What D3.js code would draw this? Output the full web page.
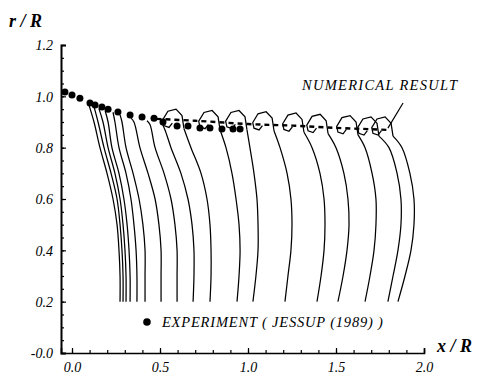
<!DOCTYPE html>
<html>
<head>
<meta charset="utf-8">
<script src="https://cdn.jsdelivr.net/npm/d3@7"></script>
<style>
  body { margin: 0; background: #fff; }
  svg { display: block; }
  .tick text { font-family: "Liberation Serif", "DejaVu Serif", serif; font-style: italic; font-size: 14px; fill: #000; }
  .tick line { stroke: #000; stroke-width: 1.2; }
  .lbl { font-family: "Liberation Serif", serif; font-style: italic; fill: #000; }
  .title { font-family: "Liberation Serif", serif; font-style: italic; font-weight: bold; font-size: 18px; fill: #000; }
</style>
</head>
<body>
<div id="chart"></div>
<script>
// radial stations shared by the lower part of every wake line
const rLevels = [0.2, 0.3, 0.4, 0.5, 0.6, 0.7, 0.8];

// x/R of each wake line at the radial stations above
const stems = [
  [0.273, 0.273, 0.267, 0.256, 0.233, 0.199, 0.159],
  [0.290, 0.290, 0.284, 0.273, 0.256, 0.222, 0.182],
  [0.307, 0.307, 0.301, 0.290, 0.273, 0.244, 0.205],
  [0.330, 0.330, 0.324, 0.313, 0.295, 0.267, 0.227],
  [0.369, 0.369, 0.364, 0.352, 0.335, 0.307, 0.267],
  [0.415, 0.415, 0.415, 0.403, 0.381, 0.347, 0.307],
  [0.506, 0.506, 0.506, 0.494, 0.472, 0.432, 0.386],
  [0.597, 0.597, 0.597, 0.585, 0.5625, 0.523, 0.472],
  [0.688, 0.693, 0.693, 0.682, 0.659, 0.619, 0.5625],
  [0.784, 0.790, 0.790, 0.784, 0.767, 0.733, 0.676],
  [0.9375, 0.949, 0.955, 0.949, 0.932, 0.909, 0.875],
  [1.028, 1.045, 1.057, 1.057, 1.051, 1.034, 1.011],
  [1.210, 1.227, 1.244, 1.250, 1.244, 1.222, 1.182],
  [1.392, 1.415, 1.432, 1.4375, 1.432, 1.409, 1.364],
  [1.511, 1.540, 1.5625, 1.574, 1.568, 1.545, 1.500],
  [1.665, 1.693, 1.716, 1.727, 1.727, 1.705, 1.665],
  [1.795, 1.824, 1.852, 1.869, 1.869, 1.847, 1.801],
  [1.852, 1.892, 1.926, 1.943, 1.943, 1.920, 1.875]
];

// upper end of each wake line, [x/R, r/R]
const tips = [
  [[0.125, 0.900], [0.097, 0.965]],
  [[0.148, 0.900], [0.125, 0.960]],
  [[0.176, 0.900], [0.153, 0.952]],
  [[0.205, 0.900], [0.188, 0.945]],
  [[0.244, 0.900], [0.233, 0.938]],
  [[0.284, 0.900], [0.273, 0.928]],
  [[0.352, 0.900], [0.335, 0.915]],
  [[0.443, 0.890], [0.426, 0.905]],
  [[0.528, 0.870], [0.511, 0.895]],
  [[0.636, 0.875]],
  [[0.841, 0.870]],
  [[0.994, 0.870]],
  [[1.148, 0.865]],
  [[1.318, 0.860]],
  [[1.455, 0.855]],
  [[1.625, 0.850]],
  [[1.744, 0.845]],
  [[1.824, 0.845]]
];

// rolled-up tip of the outer wake lines (polygonal), [x/R, r/R]
const hooks = [
  null, null, null, null, null, null, null, null, null,
  [[0.625, 0.925], [0.591, 0.950], [0.545, 0.942], [0.515, 0.908], [0.522, 0.886], [0.551, 0.879], [0.570, 0.896]],
  [[0.830, 0.920], [0.796, 0.945], [0.750, 0.937], [0.720, 0.903], [0.727, 0.881], [0.756, 0.874], [0.775, 0.891]],
  [[0.983, 0.920], [0.949, 0.945], [0.903, 0.937], [0.873, 0.903], [0.880, 0.881], [0.909, 0.874], [0.928, 0.891]],
  [[1.137, 0.915], [1.103, 0.940], [1.057, 0.932], [1.027, 0.898], [1.034, 0.876], [1.063, 0.869], [1.082, 0.886]],
  [[1.307, 0.910], [1.273, 0.935], [1.227, 0.927], [1.197, 0.893], [1.204, 0.871], [1.233, 0.864], [1.252, 0.881]],
  [[1.444, 0.905], [1.410, 0.930], [1.364, 0.922], [1.334, 0.888], [1.341, 0.866], [1.370, 0.859], [1.389, 0.876]],
  [[1.614, 0.900], [1.580, 0.925], [1.534, 0.917], [1.504, 0.883], [1.511, 0.861], [1.540, 0.854], [1.559, 0.871]],
  [[1.733, 0.895], [1.699, 0.920], [1.653, 0.912], [1.623, 0.878], [1.630, 0.856], [1.659, 0.849], [1.678, 0.866]],
  [[1.813, 0.895], [1.779, 0.920], [1.733, 0.912], [1.703, 0.878], [1.710, 0.856], [1.739, 0.849], [1.758, 0.866]]
];

// tip vortex trajectory, numerical
const numX = [0.48, 0.70, 1.00, 1.25, 1.50, 1.70, 1.80];
const numR = [0.912, 0.905, 0.892, 0.886, 0.877, 0.872, 0.869];

// tip vortex trajectory, experiment (Jessup 1989)
const expX = [-0.040, 0.000, 0.045, 0.102, 0.131, 0.170, 0.205, 0.261, 0.330, 0.398,
              0.466, 0.517, 0.597, 0.659, 0.727, 0.784, 0.852, 0.915, 0.955];
const expR = [1.017, 1.005, 0.993, 0.974, 0.966, 0.958, 0.950, 0.939, 0.927, 0.919,
              0.915, 0.900, 0.884, 0.884, 0.877, 0.877, 0.873, 0.873, 0.873];

const xTicks = [0, 0.5, 1.0, 1.5, 2.0];
const yTicks = [0, 0.2, 0.4, 0.6, 0.8, 1.0, 1.2];

const width = 483, height = 377;
const svg = d3.select('#chart').append('svg')
  .attr('width', width)
  .attr('height', height);

const x = d3.scaleLinear().domain([-0.0625, 2.0]).range([61, 424]);
const y = d3.scaleLinear().domain([0, 1.2]).range([353, 45]);

// axes, ticks inward
const yAxis = d3.axisLeft(y).tickValues(yTicks).tickSize(-5).tickPadding(8)
  .tickFormat(d => d === 0 ? '-0.0' : d3.format('.1f')(d));
const gy = svg.append('g').attr('transform', `translate(${x.range()[0]},0)`).call(yAxis);
gy.select('.domain').attr('stroke', '#000').attr('stroke-width', 2);
gy.selectAll('.tick text').attr('dy', '0.35em');

const gyMinor = svg.append('g').attr('transform', `translate(${x.range()[0]},0)`)
  .call(d3.axisLeft(y).ticks(30).tickSize(-3).tickFormat(''));
gyMinor.select('.domain').remove();

const xAxis = d3.axisBottom(x).tickValues(xTicks).tickSize(-5).tickPadding(9)
  .tickFormat(d3.format('.1f'));
const gx = svg.append('g').attr('transform', `translate(0,${y(0)})`).call(xAxis);
gx.select('.domain').attr('stroke', '#000').attr('stroke-width', 1.6);
gx.selectAll('.tick text').attr('dy', '0.71em');

const gxMinor = svg.append('g').attr('transform', `translate(0,${y(0)})`)
  .call(d3.axisBottom(x).tickValues(d3.range(0, 2.01, 0.1)).tickSize(-3).tickFormat(''));
gxMinor.select('.domain').remove();

// wake lines
const smooth = d3.line().x(d => x(d[0])).y(d => y(d[1])).curve(d3.curveCatmullRom);
const poly = d3.line().x(d => x(d[0])).y(d => y(d[1]));

stems.forEach((s, i) => {
  const pts = s.map((v, k) => [v, rLevels[k]]).concat(tips[i]);
  svg.append('path')
    .attr('d', smooth(pts))
    .attr('fill', 'none')
    .attr('stroke', '#000')
    .attr('stroke-width', 1.25);
  if (hooks[i]) {
    svg.append('path')
      .attr('d', poly([tips[i][tips[i].length - 1]].concat(hooks[i])))
      .attr('fill', 'none')
      .attr('stroke', '#000')
      .attr('stroke-width', 1.25);
  }
});

// numerical tip vortex
svg.append('path')
  .attr('d', smooth(numX.map((v, k) => [v, numR[k]])))
  .attr('fill', 'none')
  .attr('stroke', '#000')
  .attr('stroke-width', 2.4)
  .attr('stroke-dasharray', '5,4');

// experiment
svg.selectAll('.exp')
  .data(expX.map((v, k) => [v, expR[k]]))
  .enter()
  .append('circle')
  .attr('class', 'exp')
  .attr('cx', d => x(d[0]))
  .attr('cy', d => y(d[1]))
  .attr('r', 3.5)
  .attr('fill', '#000');

// label with pointer
svg.append('line')
  .attr('x1', x(1.881)).attr('y1', y(0.974))
  .attr('x2', x(1.795)).attr('y2', y(0.876))
  .attr('stroke', '#000').attr('stroke-width', 1.2);
svg.append('text')
  .attr('class', 'lbl')
  .attr('x', 302).attr('y', 90)
  .attr('font-size', 14.5)
  .attr('textLength', 155)
  .text('NUMERICAL  RESULT');

// legend
svg.append('circle')
  .attr('cx', x(0.426)).attr('cy', y(0.121))
  .attr('r', 3.8).attr('fill', '#000');
svg.append('text')
  .attr('class', 'lbl')
  .attr('x', x(0.511)).attr('y', y(0.101))
  .attr('font-size', 14.5)
  .attr('textLength', 221)
  .text('EXPERIMENT ( JESSUP (1989) )');

// axis titles
svg.append('text').attr('class', 'title').attr('x', 9).attr('y', 27).text('r / R');
svg.append('text').attr('class', 'title').attr('x', 437).attr('y', 352).text('x / R');
</script>
</body>
</html>
